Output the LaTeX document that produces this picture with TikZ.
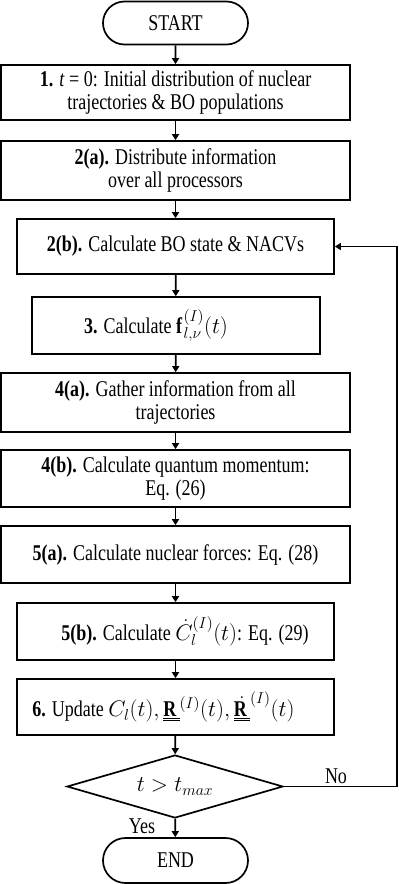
\RequirePackage{fix-cm}
\documentclass[tikz,border=0pt]{standalone}
\usepackage{fontspec}
\setmainfont{Liberation Serif}[FakeStretch=0.8]
\usetikzlibrary{arrows.meta,shapes.geometric,shapes.misc}
\begin{document}
\begin{tikzpicture}[x=1pt,y=-1pt,
  every node/.style={font=\fontsize{22.5}{23}\selectfont},
  box/.style={draw,line width=1.7pt,rectangle,align=center,inner sep=0pt},
  term/.style={draw,line width=1.7pt,rounded rectangle,minimum width=145pt,inner sep=0pt},
  dec/.style={draw,line width=1.7pt,diamond,aspect=3.4,inner sep=0pt,minimum width=216pt,minimum height=63pt},
  arr/.style={line width=1.7pt,-{Triangle[length=6pt,width=7pt]}},
  lbl/.style={inner sep=1pt}]
\useasboundingbox (0,0) rectangle (399,884);
\node[term,minimum height=43pt] (start) at (175.5,23) {START};
\node[box,minimum width=349pt,minimum height=55pt] (s1) at (175.5,92.5) {\textbf{1.} \textit{t} = 0: Initial distribution of nuclear\\trajectories \& BO populations};
\node[box,minimum width=349pt,minimum height=59pt] (s2a) at (175.5,170.5) {\textbf{2(a).} Distribute information\\over all processors};
\node[box,minimum width=317pt,minimum height=55pt] (s2b) at (175.5,246.5) {\textbf{2(b).} Calculate BO state \& NACVs};
\node[box,minimum width=288pt,minimum height=57pt] (s3) at (176,325.5) {\textbf{3.} Calculate $\mathbf{f}_{l,\nu}^{(I)}(t)$\hspace*{40pt}};
\node[box,minimum width=349pt,minimum height=59pt] (s4a) at (175.5,402.5) {\textbf{4(a).} Gather information from all\\trajectories};
\node[box,minimum width=349pt,minimum height=57pt] (s4b) at (175.5,478.5) {\textbf{4(b).} Calculate quantum momentum:\\Eq. (26)};
\node[box,minimum width=349pt,minimum height=57pt] (s5a) at (175.5,554.5) {\textbf{5(a).} Calculate nuclear forces: Eq. (28)};
\node[box,minimum width=317pt,minimum height=57pt] (s5b) at (175.5,631.5) {\hspace*{19pt}\textbf{5(b).} Calculate $\dot{C}_l^{(I)}(t)$: Eq. (29)};
\node[box,minimum width=317pt,minimum height=56pt] (s6) at (175.5,707) {\textbf{6.} Update $C_l(t),\underline{\underline{\mathbf{R}}}^{(I)}(t),\dot{\underline{\underline{\mathbf{R}}}}^{(I)}(t)$\hspace*{24pt}};
\node[dec] (d) at (175,786.5) {$t>t_{max}$};
\node[term,minimum height=45pt] (end) at (175.5,860.5) {END};
\coordinate (c1) at (397,786.5);
\coordinate (c2) at (397,246.5);
\draw[arr] (start) -- (s1);
\draw[arr] (s1) -- (s2a);
\draw[arr] (s2a) -- (s2b);
\draw[arr] (s2b) -- (s3);
\draw[arr] (s3) -- (s4a);
\draw[arr] (s4a) -- (s4b);
\draw[arr] (s4b) -- (s5a);
\draw[arr] (s5a) -- (s5b);
\draw[arr] (s5b) -- (s6);
\draw[arr] (s6) -- (d);
\draw[arr] (d) -- (end);
\draw[arr] (d.east) -- (c1) -- (c2) -- (s2b.east);
\node[lbl] (no) at (336,776) {No};
\node[lbl] (yes) at (142,826) {Yes};
\end{tikzpicture}
\end{document}
